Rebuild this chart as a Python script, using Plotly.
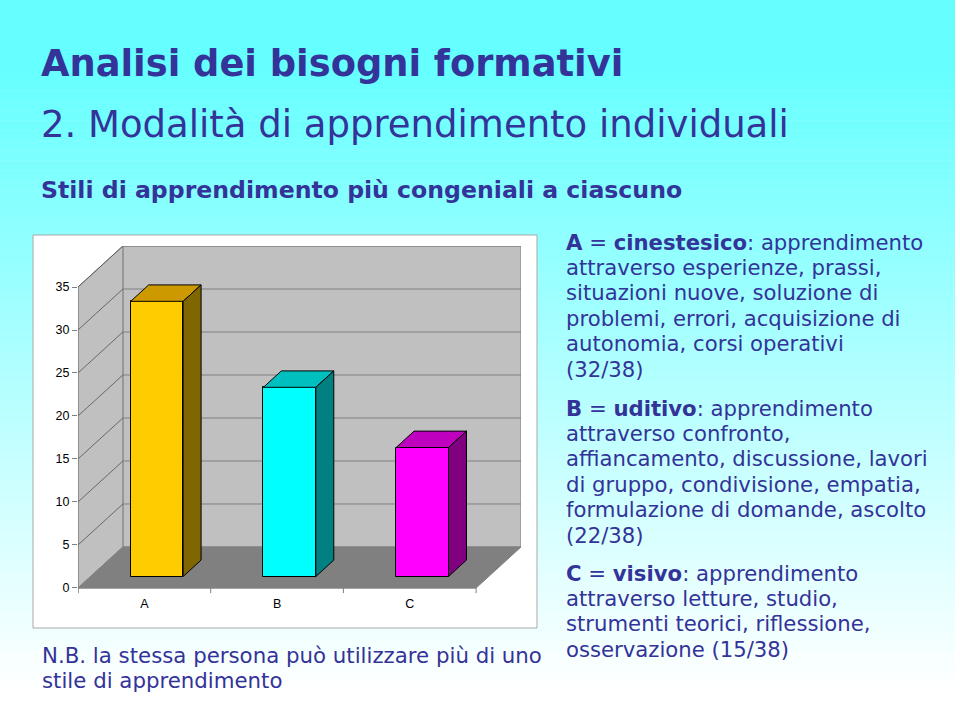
import plotly.graph_objects as go

# ---------------- data ----------------
categories = ["A", "B", "C"]
values = [32, 22, 15]
front_colors = ["#FFCC00", "#00FFFF", "#FF00FF"]
top_colors = ["#CC9900", "#00BFBF", "#BF00BF"]
side_colors = ["#7F6600", "#008080", "#800080"]
y_ticks = [0, 5, 10, 15, 20, 25, 30, 35]

title_text = "<b>Analisi dei bisogni formativi</b>"
subtitle_text = "2. Modalità di apprendimento individuali"
heading_text = "<b>Stili di apprendimento più congeniali a ciascuno</b>"
para_a = ["<b>A</b> = <b>cinestesico</b>: apprendimento", "attraverso esperienze, prassi,",
          "situazioni nuove, soluzione di", "problemi, errori, acquisizione di",
          "autonomia, corsi operativi", "(32/38)"]
para_b = ["<b>B</b> = <b>uditivo</b>: apprendimento", "attraverso confronto,",
          "affiancamento, discussione, lavori", "di gruppo, condivisione, empatia,",
          "formulazione di domande, ascolto", "(22/38)"]
para_c = ["<b>C</b> = <b>visivo</b>: apprendimento", "attraverso letture, studio,",
          "strumenti teorici, riflessione,", "osservazione (15/38)"]
note_lines = ["N.B. la stessa persona può utilizzare più di uno", "stile di apprendimento"]

# ---------------- geometry ----------------
W, H = 960, 701
DX = 45 / 133.0          # x shift (category units) per unit of depth
DY = 41 / 8.6            # y shift (value units) per unit of depth
XMIN, XMAX = -0.5, 2.5 + DX
YMIN, YMAX = -0.7, 35 + DY
D0, D1 = 0.28, 0.68      # bar depth span
BW = 0.395               # bar width
TXT = "#333399"
LINE_H = 25.4


def px(xp):
    return xp / W


def py(yp):
    return 1 - yp / H


fig = go.Figure()

shapes = []
# background gradient (cyan -> white)
n = 70
g0, g1 = 70, 690
for k in range(n):
    y0p = k * H / n
    y1p = (k + 1) * H / n + 0.6
    mid = (y0p + y1p) / 2
    t = min(max((mid - g0) / (g1 - g0), 0), 1)
    r = int(round(102 + (255 - 102) * t))
    shapes.append(dict(type="rect", xref="paper", yref="paper", x0=0, x1=1,
                       y0=py(y1p), y1=py(y0p), fillcolor=f"rgb({r},255,255)",
                       line=dict(width=0), layer="below"))
shapes.append(dict(type="rect", xref="paper", yref="paper", x0=px(955), x1=1, y0=0, y1=1,
                   fillcolor="white", line=dict(width=0), layer="below"))
# chart box
shapes.append(dict(type="rect", xref="paper", yref="paper", x0=px(33), x1=px(537),
                   y0=py(628), y1=py(235), fillcolor="white",
                   line=dict(color="#A8A8A8", width=1), layer="below"))

# walls / floor
bx0 = XMIN + DX
shapes.append(dict(type="rect", xref="x", yref="y", x0=bx0, x1=XMAX, y0=DY, y1=YMAX,
                   fillcolor="#C0C0C0", line=dict(color="#808080", width=1), layer="below"))
shapes.append(dict(type="path", xref="x", yref="y",
                   path=f"M {XMIN},0 L {bx0},{DY} L {bx0},{YMAX} L {XMIN},{y_ticks[-1]} Z",
                   fillcolor="#C0C0C0", line=dict(color="#808080", width=1), layer="below"))
shapes.append(dict(type="path", xref="x", yref="y",
                   path=f"M {XMIN},0 L 2.5,0 L {XMAX},{DY} L {bx0},{DY} Z",
                   fillcolor="#808080", line=dict(color="#808080", width=1), layer="below"))
# gridlines
for t in y_ticks[1:]:
    shapes.append(dict(type="line", xref="x", yref="y", x0=XMIN, y0=t, x1=bx0, y1=t + DY,
                       line=dict(color="#505050", width=0.8), layer="below"))
    shapes.append(dict(type="line", xref="x", yref="y", x0=bx0, y0=t + DY, x1=XMAX, y1=t + DY,
                       line=dict(color="#808080", width=1), layer="below"))
# front axis lines and x ticks
shapes.append(dict(type="line", xref="x", yref="y", x0=XMIN, y0=-0.6, x1=XMIN, y1=y_ticks[-1],
                   line=dict(color="#808080", width=1), layer="below"))
shapes.append(dict(type="line", xref="x", yref="y", x0=XMIN, y0=0, x1=2.5, y1=0,
                   line=dict(color="#808080", width=1), layer="below"))
for b in [-0.5, 0.5, 1.5, 2.5]:
    shapes.append(dict(type="line", xref="x", yref="y", x0=b, y0=0, x1=b, y1=-0.6,
                       line=dict(color="#808080", width=1), layer="below"))

# ---------------- bars ----------------
base = D0 * DY
dd = D1 - D0
xc = [i + D0 * DX for i in range(len(values))]
fig.add_trace(go.Bar(x=xc, y=values, base=base, width=BW,
                     marker=dict(color=front_colors, line=dict(color="black", width=1)),
                     hoverinfo="skip", showlegend=False))
for i, v in enumerate(values):
    xl, xr = xc[i] - BW / 2, xc[i] + BW / 2
    top = v + base
    fig.add_trace(go.Scatter(
        x=[xl, xr, xr + dd * DX, xl + dd * DX, xl],
        y=[top, top, top + dd * DY, top + dd * DY, top],
        fill="toself", fillcolor=top_colors[i], mode="lines",
        line=dict(color="black", width=1), hoverinfo="skip", showlegend=False))
    fig.add_trace(go.Scatter(
        x=[xr, xr, xr + dd * DX, xr + dd * DX, xr],
        y=[base, top, top + dd * DY, base + dd * DY, base],
        fill="toself", fillcolor=side_colors[i], mode="lines",
        line=dict(color="black", width=1), hoverinfo="skip", showlegend=False))

# ---------------- text ----------------
ann = []


def add_text(text, xp, yp, size, family="DejaVu Sans"):
    ann.append(dict(text=text, x=px(xp), y=py(yp), xref="paper", yref="paper",
                    xanchor="left", yanchor="middle", align="left", showarrow=False,
                    font=dict(family=family, size=size, color=TXT)))


add_text(title_text, 39, 63, 36.8)
add_text(subtitle_text, 39, 124, 37)
add_text(heading_text, 39, 190, 23.6)
for lines, y_first in [(para_a, 242), (para_b, 408), (para_c, 573)]:
    for j, line in enumerate(lines):
        add_text(line, 564, y_first + j * LINE_H, 21.2)
for j, line in enumerate(note_lines):
    add_text(line, 40, 655 + j * 25, 21.3)

fig.update_layout(
    width=W, height=H, margin=dict(l=0, r=0, t=0, b=0),
    paper_bgcolor="white", plot_bgcolor="rgba(0,0,0,0)",
    shapes=shapes, annotations=ann, bargap=0,
    xaxis=dict(domain=[px(78), px(521)], range=[XMIN, XMAX], tickvals=list(range(len(categories))),
               ticktext=categories, ticks="", showgrid=False, zeroline=False, showline=False,
               tickfont=dict(family="Liberation Sans, Arial", size=12.5, color="black")),
    yaxis=dict(domain=[py(594), py(246)], range=[YMIN, YMAX], tickvals=y_ticks,
               ticks="outside", ticklen=5, tickcolor="#808080", showgrid=False,
               zeroline=False, showline=False,
               tickfont=dict(family="Liberation Sans, Arial", size=12.5, color="black")),
)

fig.write_html("out.html", config={"displayModeBar": False},
               post_script="document.body.style.margin='0';")
